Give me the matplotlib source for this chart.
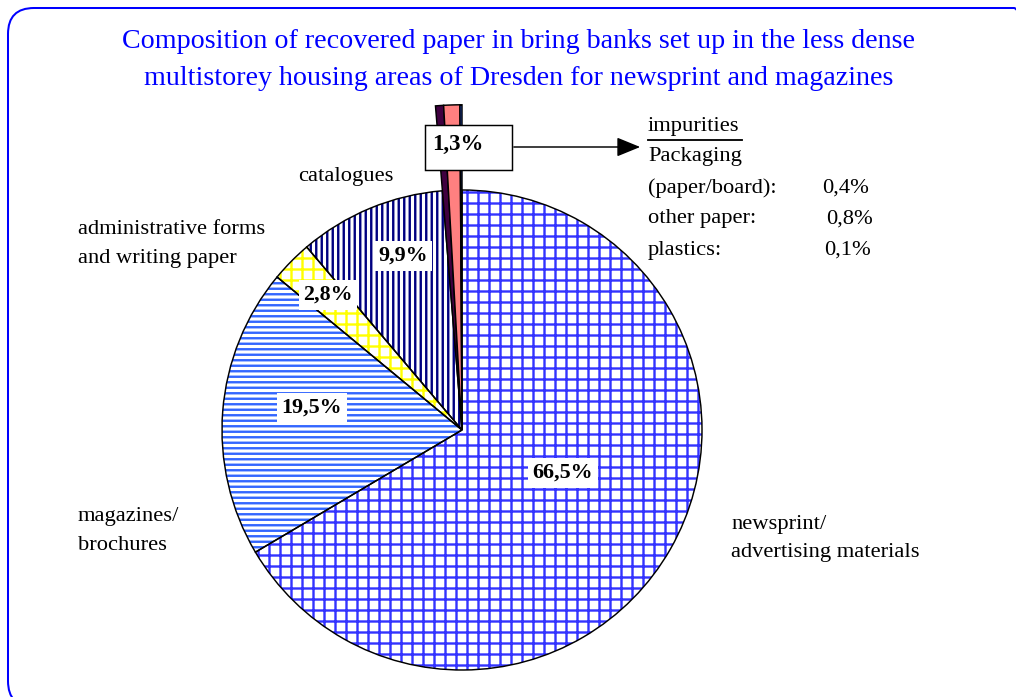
import matplotlib
matplotlib.use('Agg')
import matplotlib.pyplot as plt
from matplotlib.patches import FancyBboxPatch, Rectangle

plt.rcParams['font.family'] = ['Liberation Serif', 'DejaVu Serif']
plt.rcParams['hatch.linewidth'] = 2.6

# data
categories = ['newsprint/\nadvertising materials', 'magazines/\nbrochures',
              'administrative forms\nand writing paper', 'catalogues',
              'Packaging (paper/board)', 'other paper', 'plastics']
shares = [66.5, 19.5, 2.8, 9.9, 0.4, 0.8, 0.1]
pct_labels = ['66,5%', '19,5%', '2,8%', '9,9%']
impurity_total = '1,3%'
impurity_names = ['(paper/board):', 'other paper:', 'plastics:']
impurity_values = ['0,4%', '0,8%', '0,1%']
title_lines = ['Composition of recovered paper in bring banks set up in the less dense',
               'multistorey housing areas of Dresden for newsprint and magazines']

hatch_colors = ['#3333ff', '#3366ff', '#ffff00', '#000080']
hatches = ['+', '--', '+', '||']
sliver_colors = ['#400040', '#ff8080', '#3366ff']

W, H = 1016, 697
dpi = 66
fig = plt.figure(figsize=(W / dpi, H / dpi), dpi=dpi)
ax = fig.add_axes([0, 0, 1, 1])

def Y(y):
    return H - y

cx, cy, R = 462, Y(430), 240

# main pie: hatch layer
wedges, _ = ax.pie(shares, center=(cx, cy), radius=R, startangle=90,
                   counterclock=False, frame=True)
for i, w in enumerate(wedges):
    if i < 4:
        w.set_facecolor('white')
        w.set_edgecolor(hatch_colors[i])
        w.set_hatch(hatches[i])
        w.set_linewidth(0)
    else:
        w.set_visible(False)

# main pie: outlines
wedges2, _ = ax.pie(shares, center=(cx, cy), radius=R, startangle=90,
                    counterclock=False, frame=True,
                    wedgeprops=dict(facecolor='none', edgecolor='black', linewidth=1.6))
for w in wedges2[4:]:
    w.set_visible(False)

# impurity slivers, drawn longer
wedges3, _ = ax.pie(shares, center=(cx, cy), radius=R * 1.355, startangle=90,
                    counterclock=False, frame=True,
                    wedgeprops=dict(edgecolor='black', linewidth=1.6))
for i, w in enumerate(wedges3):
    if i < 4:
        w.set_visible(False)
    else:
        w.set_facecolor(sliver_colors[i - 4])

ax.set_xlim(0, W)
ax.set_ylim(0, H)
ax.set_aspect('equal')
ax.axis('off')

# border
ax.add_patch(FancyBboxPatch((8, Y(707)), 1032, 699, boxstyle='round,pad=0,rounding_size=26',
                            facecolor='none', edgecolor='#0000ff', linewidth=2.2, clip_on=False))

# title
for t, y in zip(title_lines, [48, 85]):
    ax.text(519, Y(y), t, ha='center', va='baseline', fontsize=30.5, color='#0000ff')

# percent labels
pct_pos = [(563, 473), (312, 408), (328, 295), (403, 256)]
for (x, y), t in zip(pct_pos, pct_labels):
    ax.text(x, Y(y), t, ha='center', va='center', fontsize=24, fontweight='bold',
            bbox=dict(facecolor='white', edgecolor='none', pad=5))

ax.add_patch(Rectangle((425, Y(170)), 87, 45, facecolor='white', edgecolor='black', linewidth=1.6))
ax.text(458, Y(144), impurity_total, ha='center', va='center', fontsize=25, fontweight='bold')
ax.annotate('', xy=(642, Y(147)), xytext=(512, Y(147)),
            arrowprops=dict(arrowstyle='-|>,head_length=2.2,head_width=0.9', color='black', lw=1.6))

# category labels
fs = 24.5
label_pos = [(731, 524), (78, 516), (78, 229), (298, 176)]
for lab, (x, y) in zip(categories[:4], label_pos):
    for k, line in enumerate(lab.split('\n')):
        ax.text(x, Y(y + 29 * k), line, ha='left', va='center', fontsize=fs)

# impurities legend
ax.text(648, Y(127), 'impurities', ha='left', va='center', fontsize=fs)
ax.plot([648, 742], [Y(140), Y(140)], color='black', lw=2)
ax.text(648, Y(157), 'Packaging', ha='left', va='center', fontsize=fs)
for n, v, y, vx in zip(impurity_names, impurity_values, [188, 219, 250], [822, 826, 824]):
    ax.text(648, Y(y), n, ha='left', va='center', fontsize=fs)
    ax.text(vx, Y(y), v, ha='left', va='center', fontsize=fs)

fig.savefig('out.png', dpi=dpi)
